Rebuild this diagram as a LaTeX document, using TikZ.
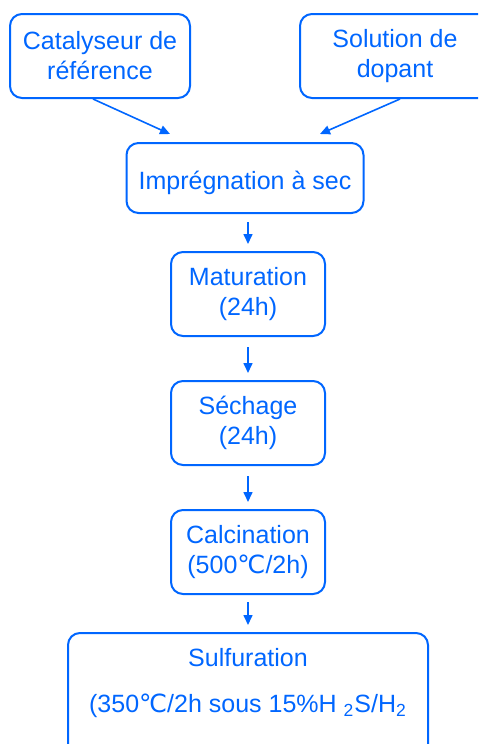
\documentclass[tikz,border=0pt]{standalone}
\usepackage{fontspec}
\setmainfont{Liberation Sans}
\newfontfamily\degfont{DejaVu Sans}
\usetikzlibrary{calc,arrows.meta}
\definecolor{pblue}{HTML}{0066FF}
\newcommand{\dgc}{{\degfont ℃}}
\tikzset{
  procbox/.style={draw=pblue, line width=1pt, rounded corners=6pt, text=pblue, align=center, inner sep=0pt, font=\fontsize{12.5}{15}\selectfont},
  stepbox/.style={procbox, minimum width=77pt, minimum height=42pt},
  flow/.style={-{Triangle[length=5pt,width=4.5pt]}, draw=pblue, line width=0.8pt},
}

\begin{document}
\begin{tikzpicture}[x=0.5pt, y=-0.5pt]  % 1 unit = 1 px
  \clip (0,0) rectangle (478,744);
  % Entrées
  \node[procbox, minimum width=90pt, minimum height=42pt] (cat) at (100,56) {Catalyseur de\\référence};
  \node[procbox, minimum width=95pt, minimum height=42pt] (dop) at (395,56) {Solution de\\dopant};
  % Étapes
  \node[procbox, minimum width=118.5pt, minimum height=35pt, text height=13pt, text depth=2pt] (imp) at (245,178) {Imprégnation à sec};
  \node[stepbox] (mat) at (248,294) {Maturation\\(24h)};
  \node[stepbox] (sech) at (248,423) {Séchage\\(24h)};
  \node[stepbox] (calcin) at (248,552) {Calcination\\(500\dgc/2h)};
  \node[procbox, anchor=north, minimum width=180pt, minimum height=70pt] (sulf) at (248,632)
    {Sulfuration\\[8pt](350\dgc/2h sous 15\%H \textsubscript{2}S/H\textsubscript{2}\\[8pt]\mbox{}};
  % Flèches
  \draw[flow] ($(cat.south)+(-7,0)$) -- ($(imp.north)+(-75,-8)$);
  \draw[flow] ($(dop.south)+(5,0)$) -- ($(imp.north)+(75,-8)$);
  \draw[flow, shorten <=4pt, shorten >=3.5pt] (imp.south -| mat.north) -- (mat.north);
  \draw[flow, shorten <=5pt, shorten >=3.5pt] (mat) -- (sech);
  \draw[flow, shorten <=5pt, shorten >=3.5pt] (sech) -- (calcin);
  \draw[flow, shorten <=3.5pt, shorten >=3.5pt] (calcin) -- (sulf);
\end{tikzpicture}
\end{document}
